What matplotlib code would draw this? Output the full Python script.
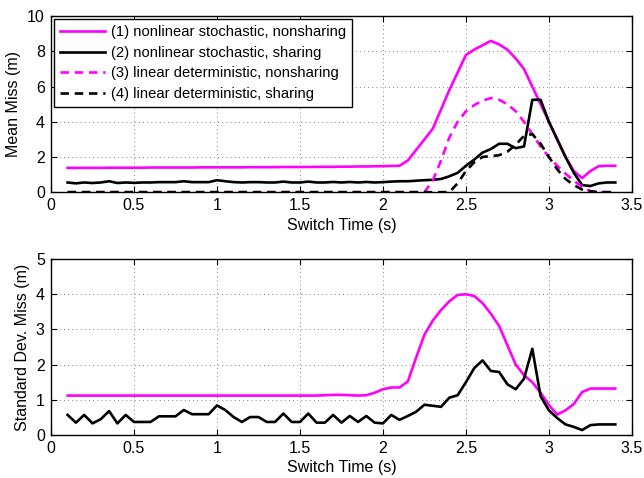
import matplotlib
matplotlib.use('Agg')
import matplotlib.pyplot as plt
from matplotlib.ticker import FormatStrFormatter

plt.rcParams['font.family'] = ['Liberation Sans', 'DejaVu Sans']

# switch times (s)
switch_time = [0.10, 0.15, 0.20, 0.25, 0.30, 0.35, 0.40, 0.45, 0.50, 0.55,
               0.60, 0.65, 0.70, 0.75, 0.80, 0.85, 0.90, 0.95, 1.00, 1.05,
               1.10, 1.15, 1.20, 1.25, 1.30, 1.35, 1.40, 1.45, 1.50, 1.55,
               1.60, 1.65, 1.70, 1.75, 1.80, 1.85, 1.90, 1.95, 2.00, 2.05,
               2.10, 2.15, 2.20, 2.25, 2.30, 2.35, 2.40, 2.45, 2.50, 2.55,
               2.60, 2.65, 2.70, 2.75, 2.80, 2.85, 2.90, 2.95, 3.00, 3.05,
               3.10, 3.15, 3.20, 3.25, 3.30, 3.35, 3.40]

# mean miss (m)
mean_nl_nonshare = [1.38, 1.38, 1.38, 1.38, 1.38, 1.39, 1.39, 1.39, 1.39, 1.39,
                    1.40, 1.40, 1.40, 1.40, 1.40, 1.40, 1.41, 1.41, 1.41, 1.41,
                    1.41, 1.41, 1.42, 1.42, 1.42, 1.42, 1.43, 1.43, 1.43, 1.43,
                    1.44, 1.44, 1.44, 1.45, 1.45, 1.46, 1.46, 1.47, 1.48, 1.49,
                    1.50, 1.80, 2.40, 3.00, 3.60, 4.70, 5.80, 6.80, 7.80, 8.10,
                    8.35, 8.60, 8.40, 8.10, 7.60, 7.00, 6.00, 5.00, 4.00, 3.00,
                    2.00, 1.20, 0.80, 1.20, 1.48, 1.50, 1.50]
mean_nl_share = [0.55, 0.50, 0.55, 0.52, 0.55, 0.62, 0.52, 0.55, 0.53, 0.55,
                 0.55, 0.57, 0.57, 0.57, 0.62, 0.57, 0.57, 0.57, 0.68, 0.62,
                 0.57, 0.55, 0.57, 0.57, 0.55, 0.55, 0.60, 0.55, 0.55, 0.60,
                 0.55, 0.55, 0.58, 0.55, 0.58, 0.55, 0.58, 0.55, 0.57, 0.60,
                 0.62, 0.62, 0.65, 0.68, 0.70, 0.75, 0.90, 1.10, 1.50, 1.85,
                 2.25, 2.45, 2.75, 2.75, 2.50, 2.60, 5.25, 5.25, 4.00, 3.00,
                 2.00, 1.10, 0.40, 0.35, 0.50, 0.55, 0.55]
mean_lin_nonshare = [0.0] * 43 + [0.00, 0.65, 1.80, 3.10, 4.00, 4.60, 4.95, 5.20,
                                  5.35, 5.25, 5.00, 4.60, 4.00, 3.30, 2.60, 2.00,
                                  1.50, 1.05, 0.65, 0.30, 0.05, 0.00, 0.00, 0.00]
mean_lin_share = [0.0] * 47 + [0.50, 1.20, 1.70, 2.00, 2.05, 2.10, 2.30, 2.70,
                               3.20, 3.30, 2.75, 2.00, 1.30, 0.75, 0.40, 0.15,
                               0.05, 0.00, 0.00, 0.00]

# standard deviation of miss (m)
std_nl_nonshare = [1.12] * 31 + [1.13, 1.14, 1.14, 1.13, 1.12,
                                 1.13, 1.20, 1.30, 1.35, 1.35, 1.52, 2.20, 2.85,
                                 3.25, 3.55, 3.80, 3.98, 4.00, 3.95, 3.75, 3.45,
                                 3.10, 2.55, 2.00, 1.70, 1.50, 1.20, 0.85, 0.58,
                                 0.70, 0.88, 1.22, 1.32, 1.32, 1.32, 1.32]
std_nl_share = [0.57, 0.35, 0.57, 0.33, 0.45, 0.68, 0.33, 0.57, 0.37, 0.37,
                0.37, 0.53, 0.53, 0.53, 0.71, 0.59, 0.59, 0.59, 0.84, 0.71,
                0.51, 0.37, 0.51, 0.51, 0.37, 0.37, 0.61, 0.37, 0.37, 0.61,
                0.35, 0.35, 0.57, 0.35, 0.54, 0.37, 0.54, 0.35, 0.33,
                0.57, 0.43, 0.54, 0.66, 0.86, 0.83, 0.80, 1.06, 1.13, 1.50,
                1.90, 2.12, 1.82, 1.79, 1.44, 1.30, 1.60, 2.45, 1.10, 0.70,
                0.48, 0.30, 0.23, 0.14, 0.28, 0.30, 0.30, 0.30]

labels = ['(1) nonlinear stochastic, nonsharing',
          '(2) nonlinear stochastic, sharing',
          '(3) linear deterministic, nonsharing',
          '(4) linear deterministic, sharing']

magenta = '#ff00ff'
lw = 1.9
dash = (0, (3.2, 2.2))
fs = 11.5

fig = plt.figure(figsize=(6.44, 4.78), dpi=100)
ax1 = fig.add_axes([0.0792, 0.598, 0.902, 0.368])
ax2 = fig.add_axes([0.0792, 0.090, 0.902, 0.368])

ax1.plot(switch_time, mean_nl_nonshare, color=magenta, lw=lw, label=labels[0])
ax1.plot(switch_time, mean_nl_share, color='black', lw=lw, label=labels[1])
ax1.plot(switch_time, mean_lin_nonshare, color=magenta, lw=lw, linestyle=dash, label=labels[2])
ax1.plot(switch_time, mean_lin_share, color='black', lw=lw, linestyle=dash, label=labels[3])

ax2.plot(switch_time, std_nl_nonshare, color=magenta, lw=lw)
ax2.plot(switch_time, std_nl_share, color='black', lw=lw)

for ax, ymax, ystep in [(ax1, 10, 2), (ax2, 5, 1)]:
    ax.set_xlim(0, 3.5)
    ax.set_ylim(0, ymax)
    ax.set_xticks([i * 0.5 for i in range(8)])
    ax.set_yticks(list(range(0, ymax + 1, ystep)))
    ax.xaxis.set_major_formatter(FormatStrFormatter('%g'))
    ax.grid(True, linestyle=(0, (1, 4)), color='0.35', linewidth=0.6)
    ax.tick_params(direction='in', top=True, right=True, labelsize=fs,
                   length=4, width=0.8, pad=4.5)
    for s in ax.spines.values():
        s.set_linewidth(1.0)
    ax.set_xlabel('Switch Time (s)', fontsize=fs, labelpad=3)

ax1.set_ylabel('Mean Miss (m)', fontsize=fs, labelpad=4)
ax2.set_ylabel('Standard Dev. Miss (m)', fontsize=fs, labelpad=4)

leg = ax1.legend(loc='upper left', fontsize=10.6, handlelength=3.1, handletextpad=0.4,
                 borderpad=0.4, labelspacing=0.45, borderaxespad=0.2,
                 fancybox=False, framealpha=1)
leg.get_frame().set_edgecolor('black')
leg.get_frame().set_linewidth(1.0)

fig.savefig('out.png', dpi=100)
